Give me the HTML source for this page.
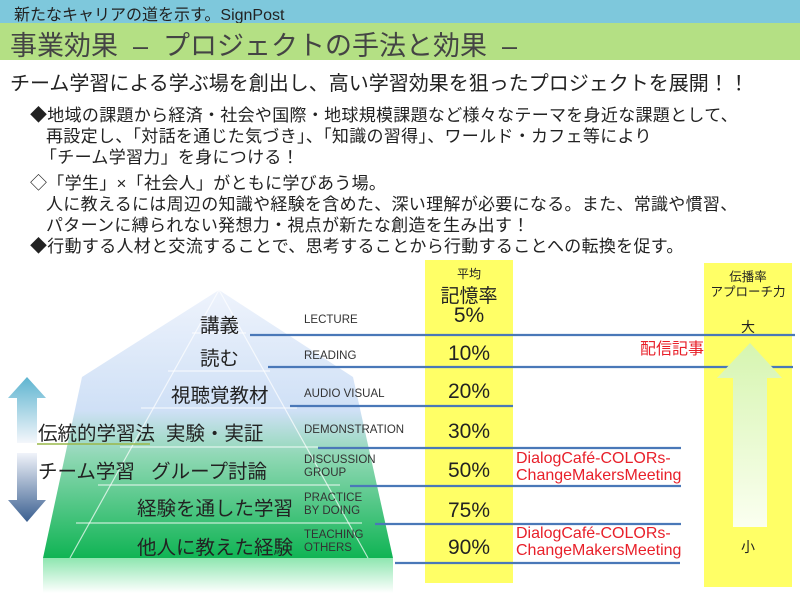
<!DOCTYPE html>
<html><head><meta charset="utf-8"><style>
body{margin:0;width:800px;height:600px;position:relative;overflow:hidden;background:#fff;font-family:"Liberation Sans","Noto Sans CJK JP",sans-serif;color:#222}
.a{position:absolute;white-space:nowrap}
.t{font-size:17px;line-height:20px;letter-spacing:0.3px}
.en{font-size:11.5px;line-height:13px;color:#333}
.jp{font-size:19.5px}
.pc{font-size:21px;width:88px;text-align:center}
.red{color:#e8202a;font-size:16px;line-height:17px}
</style></head><body>
<div class="a" style="left:0;top:0;width:800px;height:23px;background:#7ec8dc"></div>
<div class="a" style="left:14px;top:1px;font-size:16px">新たなキャリアの道を示す。SignPost</div>
<div class="a" style="left:0;top:23px;width:800px;height:37px;background:#b4e084"></div>
<div class="a" style="left:10px;top:24px;font-size:27px;color:#444">事業効果 &nbsp;– &nbsp;プロジェクトの手法と効果 &nbsp;–</div>
<div class="a" style="left:10px;top:67px;font-size:20px">チーム学習による学ぶ場を創出し、高い学習効果を狙ったプロジェクトを展開！！</div>
<div class="a t" style="left:30px;top:106px">◆地域の課題から経済・社会や国際・地球規模課題など様々なテーマを身近な課題として、</div>
<div class="a t" style="left:46px;top:127px">再設定し、「対話を通じた気づき」、「知識の習得」、ワールド・カフェ等により</div>
<div class="a t" style="left:40px;top:148px">「チーム学習力」を身につける！</div>
<div class="a t" style="left:30px;top:174px">◇「学生」×「社会人」がともに学びあう場。</div>
<div class="a t" style="left:46px;top:195px">人に教えるには周辺の知識や経験を含めた、深い理解が必要になる。また、常識や慣習、</div>
<div class="a t" style="left:46px;top:216px">パターンに縛られない発想力・視点が新たな創造を生み出す！</div>
<div class="a t" style="left:30px;top:237px">◆行動する人材と交流することで、思考することから行動することへの転換を促す。</div>

<div class="a" style="left:425px;top:260px;width:88px;height:323px;background:#ffff66"></div>
<div class="a" style="left:704px;top:263px;width:88px;height:324px;background:#ffff66"></div>

<svg class="a" style="left:0;top:0" width="800" height="600">
<defs>
<linearGradient id="g" x1="0" y1="0" x2="0" y2="1">
<stop offset="0" stop-color="#eef3fc"/><stop offset="0.45" stop-color="#cfe0f6"/><stop offset="0.62" stop-color="#8fd8b4"/><stop offset="1" stop-color="#10b454"/></linearGradient>
<linearGradient id="ga" x1="0" y1="0" x2="0" y2="1"><stop offset="0" stop-color="#d6f5b0"/><stop offset="1" stop-color="#fbfff0"/></linearGradient>
<linearGradient id="gu" x1="0" y1="0" x2="0" y2="1"><stop offset="0" stop-color="#5eb4d0"/><stop offset="1" stop-color="#f4f6fb"/></linearGradient>
<linearGradient id="gd" x1="0" y1="0" x2="0" y2="1"><stop offset="0" stop-color="#f0f3fa"/><stop offset="1" stop-color="#3a5f90"/></linearGradient>
<linearGradient id="gr" x1="0" y1="0" x2="0" y2="1"><stop offset="0" stop-color="#8ee6b0"/><stop offset="1" stop-color="#fff"/></linearGradient>
</defs>
<polygon points="219,290 353,377 393,558 43,558 82,377" fill="url(#g)"/>
<rect x="43" y="558" width="350" height="35" fill="url(#gr)"/>
<g stroke="#fff" stroke-opacity="0.7" stroke-width="1.2" fill="none">
<polyline points="70,558 219,290 368,558"/>
<line x1="192" y1="333" x2="246" y2="333"/><line x1="168" y1="371" x2="270" y2="371"/>
<line x1="141" y1="408" x2="297" y2="408"/><line x1="120" y1="447" x2="318" y2="447"/>
<line x1="98" y1="485" x2="340" y2="485"/><line x1="76" y1="523" x2="362" y2="523"/>
</g>
<g stroke="#4a78b8" stroke-width="2.2">
<line x1="250" y1="335" x2="795" y2="335"/><line x1="268" y1="367" x2="793" y2="367"/>
<line x1="290" y1="406" x2="513" y2="406"/><line x1="318" y1="448" x2="681" y2="448"/>
<line x1="350" y1="486" x2="681" y2="486"/><line x1="375" y1="524" x2="681" y2="524"/>
<line x1="395" y1="563" x2="680" y2="563"/>
</g>
<line x1="37" y1="444" x2="150" y2="444" stroke="#9ab84a" stroke-width="1.5"/>
<polygon points="27,377 46,398 37,398 37,443 17,443 17,398 8,398" fill="url(#gu)"/>
<polygon points="17,453 37,453 37,500 46,500 27,522 8,500 17,500" fill="url(#gd)"/>
<polygon points="750,343 782,378 767,378 767,527 733,527 733,378 717,378" fill="url(#ga)"/>
</svg>

<div class="a jp" style="left:200px;top:309px">講義</div>
<div class="a jp" style="left:200px;top:342px">読む</div>
<div class="a jp" style="left:171px;top:379px">視聴覚教材</div>
<div class="a jp" style="left:38px;top:417px">伝統的学習法&nbsp; 実験・実証</div>
<div class="a jp" style="left:38px;top:455px">チーム学習&nbsp;&nbsp; グループ討論</div>
<div class="a jp" style="left:137px;top:492px">経験を通した学習</div>
<div class="a jp" style="left:137px;top:531px">他人に教えた経験</div>
<div class="a en" style="left:304px;top:314px">LECTURE</div>
<div class="a en" style="left:304px;top:350px">READING</div>
<div class="a en" style="left:304px;top:388px">AUDIO VISUAL</div>
<div class="a en" style="left:304px;top:424px">DEMONSTRATION</div>
<div class="a en" style="left:304px;top:454px">DISCUSSION<br>GROUP</div>
<div class="a en" style="left:304px;top:492px">PRACTICE<br>BY DOING</div>
<div class="a en" style="left:304px;top:529px">TEACHING<br>OTHERS</div>

<div class="a" style="left:425px;top:265px;width:88px;text-align:center;font-size:12px">平均</div>
<div class="a" style="left:425px;top:281px;width:88px;text-align:center;font-size:19px">記憶率</div>
<div class="a pc" style="left:425px;top:304px">5%</div>
<div class="a pc" style="left:425px;top:342px">10%</div>
<div class="a pc" style="left:425px;top:380px">20%</div>
<div class="a pc" style="left:425px;top:420px">30%</div>
<div class="a pc" style="left:425px;top:459px">50%</div>
<div class="a pc" style="left:425px;top:499px">75%</div>
<div class="a pc" style="left:425px;top:536px">90%</div>

<div class="a" style="left:704px;top:270px;width:88px;text-align:center;font-size:12.5px;line-height:15px">伝播率<br>アプローチ力</div>
<div class="a" style="left:704px;top:317px;width:88px;text-align:center;font-size:14px">大</div>
<div class="a" style="left:704px;top:537px;width:88px;text-align:center;font-size:14px">小</div>
<div class="a red" style="left:640px;top:341px">配信記事</div>
<div class="a red" style="left:516px;top:450px">DialogCafé-COLORs-<br>ChangeMakersMeeting</div>
<div class="a red" style="left:516px;top:525px">DialogCafé-COLORs-<br>ChangeMakersMeeting</div>
</body></html>
